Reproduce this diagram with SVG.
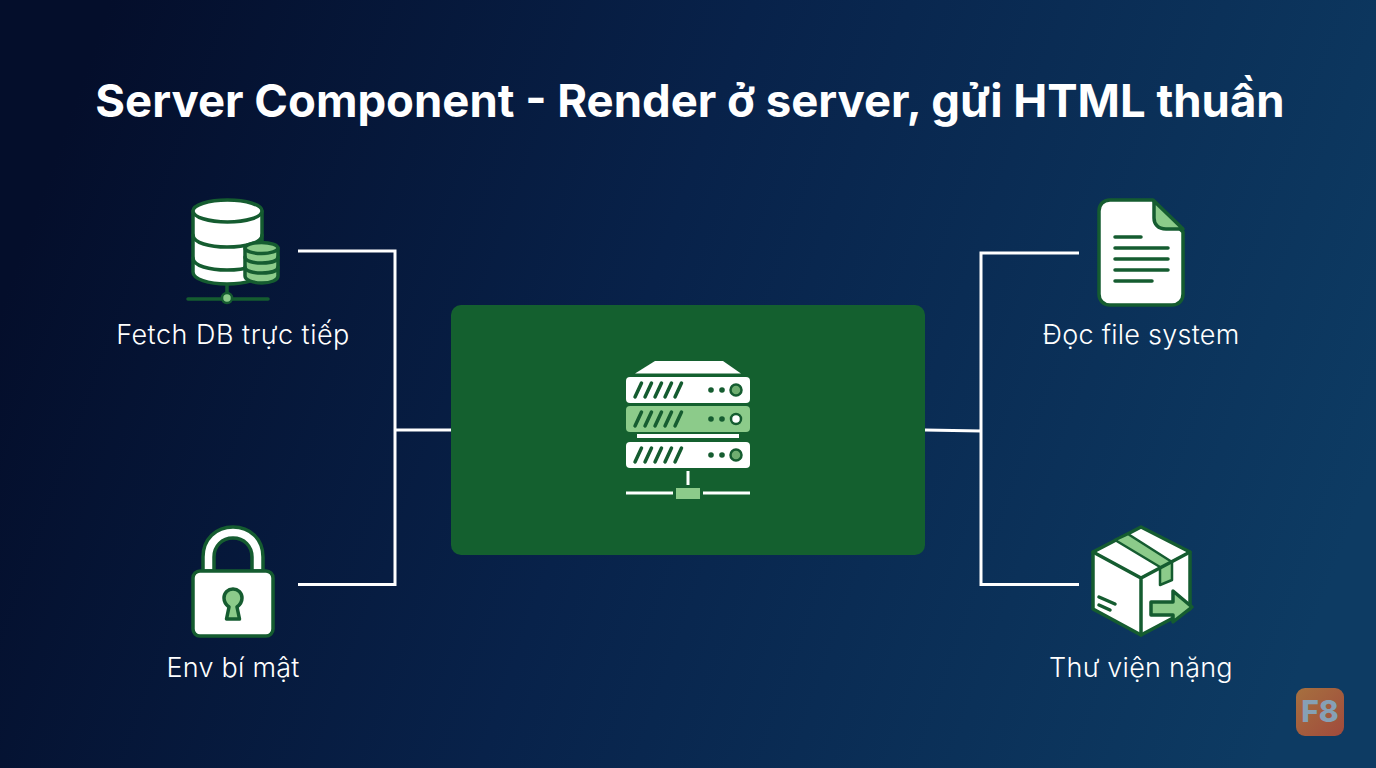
<svg xmlns="http://www.w3.org/2000/svg" width="1376" height="768" viewBox="0 0 1376 768">
<style>
text{font-family:Inter,"Noto Sans","Liberation Sans",sans-serif;text-anchor:middle}
.t{font-size:45.500px;font-weight:700;fill:#fff}
.l{font-size:27px;font-weight:300;letter-spacing:.25px;fill:#fff}
.c{fill:none;stroke:#fff;stroke-width:3}
.o{stroke:#155c30;stroke-width:3.500;stroke-linejoin:round;stroke-linecap:round}
.w{fill:#fff}.g{fill:#8ccb8a}.n{fill:none}
.d{fill:#155c30}
.s{stroke:#155c30;stroke-width:3.500;stroke-linecap:round;fill:none}
.sw{stroke:#fff;stroke-width:3;fill:none}
</style>
<defs>
<linearGradient id="bg" x1="0" y1="0.4" x2="1" y2="0.6">
<stop offset="0" stop-color="#040e2b"/><stop offset="0.45" stop-color="#08224a"/><stop offset="1" stop-color="#0d3b63"/>
</linearGradient>
<linearGradient id="f8" x1="0" y1="0" x2="1" y2="1"><stop offset="0" stop-color="#a6703f"/><stop offset="1" stop-color="#a04a3c"/></linearGradient>
<g id="slots"><path d="M635 397l6.500-14M645 397l6.500-14M655 397l6.500-14M665 397l6.500-14M675 397l6.500-14" stroke="#155c30" stroke-width="3.500" stroke-linecap="round" fill="none"/><circle cx="711" cy="390" r="2.800" class="d"/><circle cx="722" cy="390" r="2.800" class="d"/></g>
</defs>
<rect width="1376" height="768" fill="url(#bg)"/>
<text class="t" x="690" y="116.500">Server Component - Render ở server, gửi HTML thuần</text>
<g id="connectors">
<path class="c" d="M298 251H395V584.500H298M395 430H451"/>
<path class="c" d="M1079 253H981V584.500H1079M925 430L981 431"/>
</g>
<g id="server">
<rect x="451" y="305" width="474" height="250" rx="10" fill="#14602f"/>
<path class="w" d="M655 361H723L741 373.500H635Z"/>
<rect x="626" y="377" width="124" height="26" rx="4" class="w"/>
<use href="#slots"/>
<circle cx="736" cy="390" r="5.500" fill="#6fae70" stroke="#155c30" stroke-width="2.500"/>
<rect x="626" y="406" width="124" height="26" rx="4" class="g"/>
<use href="#slots" y="29"/>
<circle cx="736" cy="419" r="5" fill="#fff" stroke="#155c30" stroke-width="2.500"/>
<rect x="637" y="434" width="102" height="4" class="w"/>
<rect x="626" y="442" width="124" height="26" rx="4" class="w"/>
<use href="#slots" y="65"/>
<circle cx="736" cy="455" r="5.500" fill="#6fae70" stroke="#155c30" stroke-width="2.500"/>
<path class="sw" d="M688 471V485M626 493H673M703 493H750"/>
<rect x="676" y="488" width="24" height="11" class="g"/>
</g>
<g id="db">
<path class="s" d="M227 283V297M188 299H268"/>
<circle cx="227" cy="298" r="5" class="g" stroke="#155c30" stroke-width="2.500"/>
<path class="w o" d="M193 211V272C193 279 208 284 227 284C246 284 262 279 262 272V211Z"/>
<ellipse class="w o" cx="227.500" cy="211" rx="34.500" ry="11"/>
<path class="s" d="M193 235C193 243 210 247 227 247C245 247 262 243 262 235M193 258C193 266 210 270 227 270C245 270 262 266 262 258"/>
<path class="g o" d="M245 248V276C245 280 253 283 262 283C271 283 278 280 278 276V248Z"/>
<ellipse class="g o" cx="261.500" cy="248" rx="16.500" ry="5.500"/>
<path class="s" d="M245 257C245 261 253 263 262 263C271 263 278 261 278 257M245 267C245 271 253 273 262 273C271 273 278 271 278 267"/>
<text class="l" x="233" y="344" style="letter-spacing:.5px">Fetch DB trực tiếp</text>
</g>
<g id="lock">
<path class="w o" d="M203 571V557C203 539 216 527 233 527C250 527 263 539 263 557V571H252V557C252 546 244 538 233 538C222 538 214 546 214 557V571Z"/>
<rect class="w o" x="193" y="571" width="80" height="65" rx="7"/>
<path class="g o" d="M226.500 619L229 607C225 604 224 601 224 598C224 592.500 228 589 233 589C238 589 242 592.500 242 598C242 601 241 604 237 607L239.500 619Z"/>
<text class="l" x="233" y="677">Env bí mật</text>
</g>
<g id="file">
<path class="w o" d="M1110 200H1153L1183 232V294C1183 300 1179 305 1172 305H1110C1103 305 1099 300 1099 294V211C1099 205 1103 200 1110 200Z"/>
<path class="g o" d="M1154 201L1183 229H1166C1158 229 1154 224 1154 218Z"/>
<path class="s" d="M1115 237H1141M1115 248H1168M1115 259H1168M1115 270H1168M1115 281H1152"/>
<text class="l" x="1141" y="344">Đọc file system</text>
</g>
<g id="package">
<path class="w o" d="M1141 527L1190 552V609L1141 635L1093 609V552Z"/>
<path class="g" stroke="#155c30" stroke-width="2.500" stroke-linejoin="round" d="M1115 540L1128 534L1172 562V580L1160 585V567Z"/>
<path class="s" d="M1093 552L1141 578L1190 552M1141 578V635"/>
<path class="s" d="M1099 597L1115 604M1099 605L1110 610"/>
<path class="g o" d="M1151 602H1173V591L1192 607L1173 622V615H1151Z"/>
<text class="l" x="1141" y="677">Thư viện nặng</text>
</g>
<g id="logo">
<rect x="1296" y="688" width="48" height="48" rx="9" fill="url(#f8)"/>
<text x="1320" y="722" style="font-size:30px;font-weight:800;fill:#86a0b5">F8</text>
</g>
</svg>
